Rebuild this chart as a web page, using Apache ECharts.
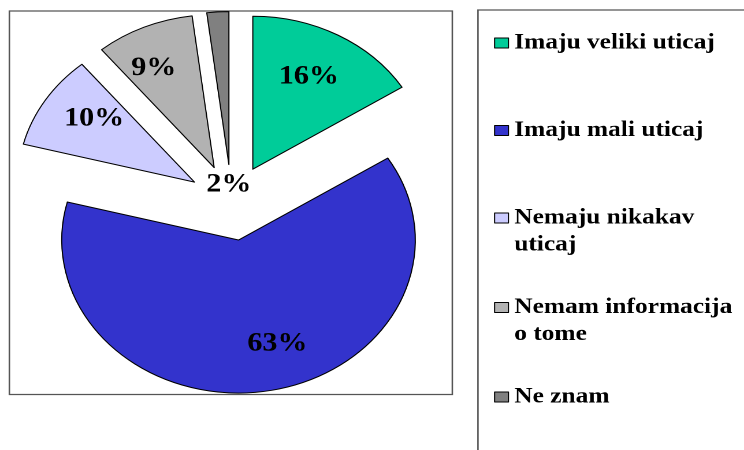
<!DOCTYPE html>
<html>
<head>
<meta charset="utf-8">
<script src="https://cdn.jsdelivr.net/npm/echarts@6/dist/echarts.min.js"></script>
<style>
  html, body { margin: 0; padding: 0; background: #fff; overflow: hidden; }
  /* the original picture is stretched sideways, so the chart is drawn narrow and widened */
  #chart { width: 644px; height: 450px; transform: scaleX(1.1553); transform-origin: 0 0; }
</style>
</head>
<body>
<div id="chart"></div>
<script>
const categories = ['Imaju veliki uticaj', 'Imaju mali uticaj', 'Nemaju nikakav\nuticaj', 'Nemam informacija\no tome', 'Ne znam'];
const values = [16, 63, 10, 9, 2];
const colors = ['#00CC99', '#3333CC', '#CCCCFF', '#B2B2B2', '#808080'];

const legendIconY = [43, 130.5, 218, 307.5, 397];
// small shifts of the percent labels, as excel placed them
const labelPadding = [[8, 9, 0, 0], [0, 0, 10, 33], [0, 0, 9, 12], [3, 17, 0, 0], [40, 0, 0, 0]];
const fontFamily = "'Liberation Serif', 'Times New Roman', serif";
const lineH = 27;

const center = [200.5, 202.5];
const radius = 153;
const explode = 38;

const chart = echarts.init(document.getElementById('chart'), null, { renderer: 'canvas', devicePixelRatio: 2 });

// one legend per entry so each can sit where excel put it
const legends = categories.map((name, i) => {
	const twoLines = name.indexOf('\n') >= 0;
	return {
		orient: 'vertical',
		left: 427.6,
		top: legendIconY[i] - (twoLines ? 1.5 * lineH : lineH / 2),
		padding: 0,
		itemWidth: 12,
		itemHeight: 10,
		icon: 'rect',
		selectedMode: false,
		// empty first line keeps the square level with the first text line
		formatter: twoLines ? '\n{name}' : '{name}',
		itemStyle: { borderColor: '#000', borderWidth: 1 },
		textStyle: {
			fontFamily: fontFamily,
			fontWeight: 'bold',
			fontSize: 22,
			lineHeight: lineH,
			color: '#000'
		},
		data: [name]
	};
});

const option = {
	animation: false,
	color: colors,
	graphic: [
		{
			type: 'rect',
			shape: { x: 8.1, y: 11, width: 383.4, height: 383.5 },
			style: { fill: 'none', stroke: '#555', lineWidth: 1.3 },
			silent: true
		},
		{
			type: 'rect',
			shape: { x: 413.7, y: 10, width: 300, height: 500 },
			style: { fill: 'none', stroke: '#555', lineWidth: 1.3 },
			silent: true
		}
	],
	legend: legends,
	series: [
		{
			type: 'pie',
			center: center,
			radius: radius,
			startAngle: 90,
			selectedMode: 'multiple',
			selectedOffset: explode,
			avoidLabelOverlap: false,
			label: { show: false },
			labelLine: { show: false },
			emphasis: { disabled: true },
			itemStyle: { borderColor: '#000', borderWidth: 1 },
			data: categories.map((name, i) => ({ name: name, value: values[i], selected: true }))
		},
		{
			// transparent ring, only used to place the percent labels further out
			type: 'pie',
			center: center,
			radius: [radius * 0.4, radius],
			startAngle: 90,
			selectedMode: 'multiple',
			selectedOffset: explode,
			avoidLabelOverlap: false,
			silent: true,
			legendHoverLink: false,
			percentPrecision: 0,
			emphasis: { disabled: true },
			itemStyle: { color: 'rgba(0,0,0,0)', borderWidth: 0 },
			labelLine: { show: false },
			label: {
				show: true,
				position: 'inside',
				formatter: '{p|{d}%}',
				color: '#000'
			},
			data: categories.map((name, i) => ({
				name: name,
				value: values[i],
				selected: true,
				label: {
					position: i === categories.length - 1 ? 'center' : 'inside',
					rich: {
						p: {
							fontFamily: fontFamily,
							fontWeight: 'bold',
							fontSize: 26,
							color: '#000',
							padding: labelPadding[i]
						}
					}
				}
			}))
		}
	]
};

chart.setOption(option);
</script>
</body>
</html>
